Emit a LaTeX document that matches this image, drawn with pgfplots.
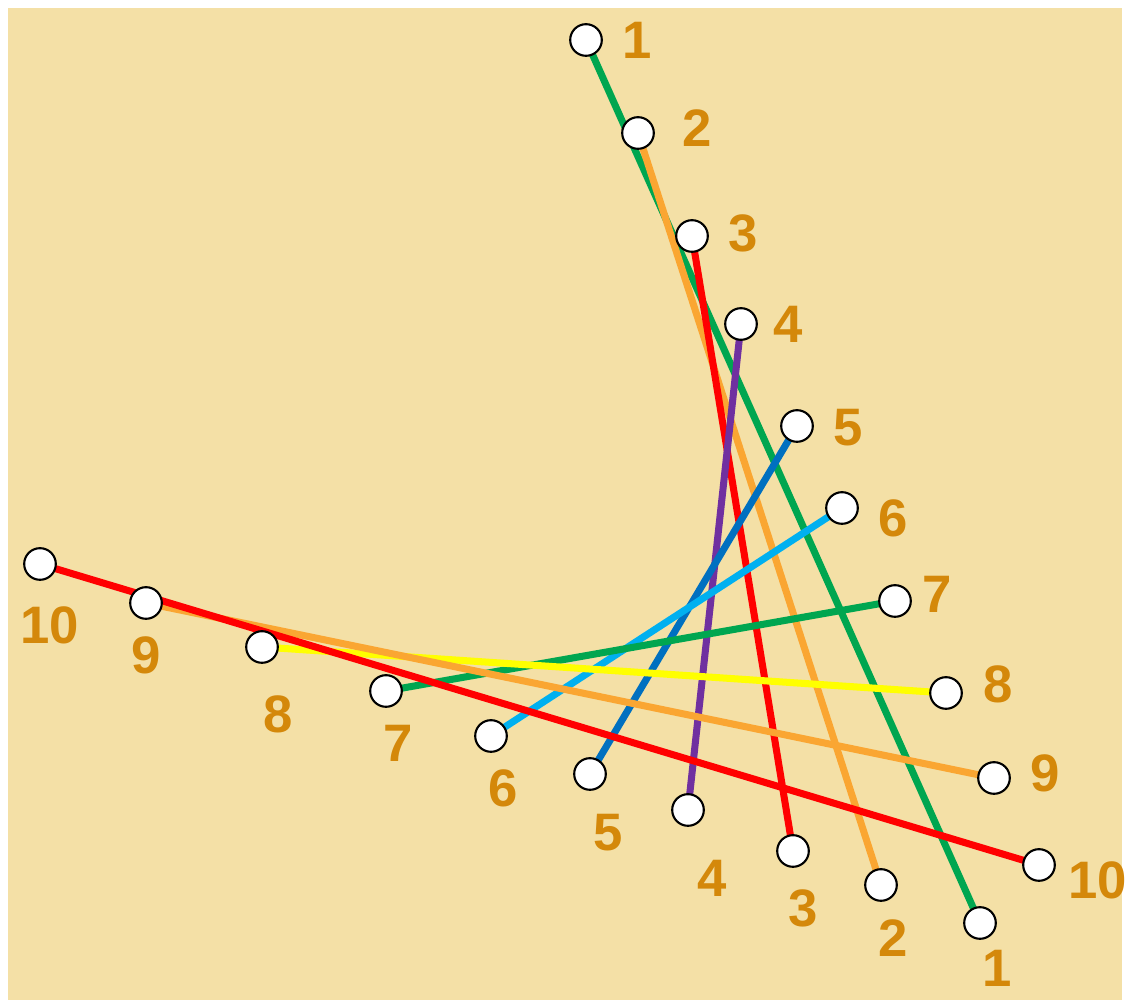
\documentclass[border=0pt]{standalone}
\usepackage{pgfplots}
\pgfplotsset{compat=1.18}
\usepackage{pgfplotstable}
\usepackage{fontspec}
\setmainfont{Liberation Sans}
\definecolor{paper}{RGB}{244,224,166}
\definecolor{lbl}{RGB}{212,136,10}
\definecolor{cgreen}{RGB}{0,166,80}
\definecolor{corange}{RGB}{250,166,50}
\definecolor{cred}{RGB}{255,0,0}
\definecolor{cpurple}{RGB}{112,48,160}
\definecolor{cblue}{RGB}{0,112,192}
\definecolor{clight}{RGB}{0,176,240}
\definecolor{cyellow}{RGB}{255,255,0}

% endpoints of the ten segments (pixel positions)
\pgfplotstableread{
x y
586 40
980 923
638 133
881 885
692 236
793 851
741 324
688 810
797 426
590 774
842 508
491 736
895 601
386 691
946 693
262 647
994 778
146 603
1039 865
40 564
}\ends

\pgfplotstableread{
x y t
637 40 1
997 968 1
697 128 2
893 938 2
743 233 3
803 908 3
788 324 4
712 878 4
848 428 5
608 833 5
893 518 6
503 788 6
937 594 7
398 743 7
998 684 8
278 714 8
1045 773 9
146 655 9
1098 880 10
50 625 10
}\labels

\begin{document}
\begin{tikzpicture}
\begin{axis}[
  scale only axis, width=11.28cm, height=10.03cm,
  xmin=0, xmax=1128, ymin=0, ymax=1003, y dir=reverse,
  hide axis, clip=false,
  line cap=round,
]
\addplot[fill=white, draw=none] coordinates {(0,0) (1128,0) (1128,1003) (0,1003)} -- cycle;
\addplot[fill=paper, draw=none] coordinates {(8,8) (1122,8) (1122,1000) (8,1000)} -- cycle;

\addplot[cgreen, line width=2pt] coordinates {(586,40) (980,923)};
\addplot[corange, line width=2pt] coordinates {(638,133) (881,885)};
\addplot[cred, line width=2pt] coordinates {(692,236) (793,851)};
\addplot[cpurple, line width=2pt] coordinates {(741,324) (688,810)};
\addplot[cblue, line width=2pt] coordinates {(797,426) (590,774)};
\addplot[clight, line width=2pt] coordinates {(842,508) (491,736)};
\addplot[cgreen, line width=2pt] coordinates {(895,601) (386,691)};
\addplot[cyellow, line width=2pt] coordinates {(946,693) (262,647)};
\addplot[corange, line width=2pt] coordinates {(994,778) (146,603)};
\addplot[cred, line width=2pt] coordinates {(1039,865) (40,564)};

\addplot[only marks, mark=*, mark size=4.5pt,
  mark options={fill=white, draw=black, line width=0.6pt}] table {\ends};

\addplot[only marks, mark=none, point meta=explicit symbolic,
  nodes near coords, nodes near coords align=center,
  every node near coord/.style={anchor=center, text=lbl, inner sep=0pt,
    font=\fontsize{15}{17}\selectfont\bfseries}]
  table[meta=t] {\labels};
\end{axis}
\end{tikzpicture}
\end{document}
